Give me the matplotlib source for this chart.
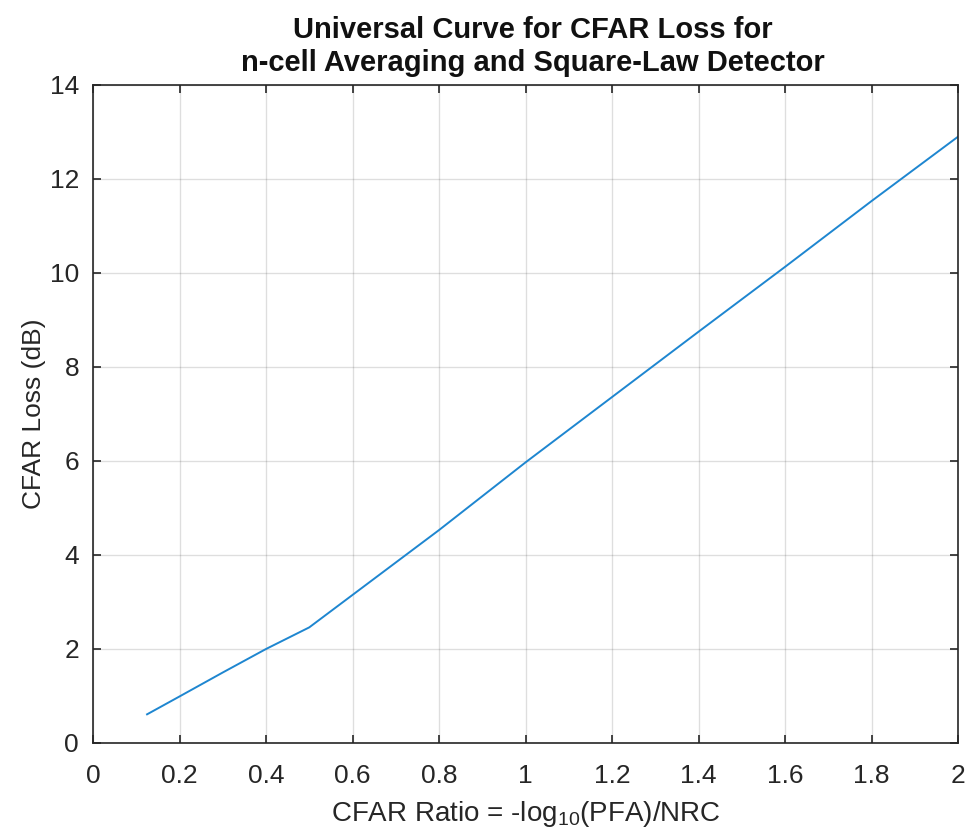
import matplotlib
matplotlib.use("Agg")
import matplotlib.pyplot as plt

# CFAR ratio vs CFAR loss
cfar_ratio = [0.125, 0.2, 0.3, 0.4, 0.5, 0.6, 0.8, 1.0, 1.2, 1.4, 1.6, 1.8, 2.0]
cfar_loss_db = [0.61, 0.99, 1.5, 2.0, 2.46, 3.15, 4.53, 5.97, 7.36, 8.75, 10.13, 11.53, 12.9]

x_ticks = [0, 0.2, 0.4, 0.6, 0.8, 1, 1.2, 1.4, 1.6, 1.8, 2]
x_tick_labels = ["0", "0.2", "0.4", "0.6", "0.8", "1", "1.2", "1.4", "1.6", "1.8", "2"]
y_ticks = [0, 2, 4, 6, 8, 10, 12, 14]

plt.rcParams['font.family'] = ['Liberation Sans', 'DejaVu Sans']
plt.rcParams['mathtext.fontset'] = 'custom'
plt.rcParams['mathtext.rm'] = 'Liberation Sans'

fig = plt.figure(figsize=(9.68, 8.36), dpi=100)
ax = fig.add_axes([93 / 968, 1 - 743 / 836, 865 / 968, 658 / 836])

ax.plot(cfar_ratio, cfar_loss_db, color='#1E86D0', linewidth=1.4)

ax.set_xlim(0, 2)
ax.set_ylim(0, 14)
ax.set_xticks(x_ticks)
ax.set_xticklabels(x_tick_labels)
ax.set_yticks(y_ticks)
ax.grid(True, color='#262626', alpha=0.15, linewidth=1)

for s in ax.spines.values():
    s.set_color('#262626')
    s.set_linewidth(1.2)
ax.tick_params(direction='in', top=True, right=True, length=6, width=1.2,
               color='#262626', labelcolor='#262626', labelsize=19)
ax.tick_params(axis='x', pad=15)
ax.tick_params(axis='y', pad=10)

ax.set_xlabel(r'CFAR Ratio = -log$_{\mathrm{10}}$(PFA)/NRC', fontsize=20, color='#262626', labelpad=8)
ax.set_ylabel('CFAR Loss (dB)', fontsize=19, color='#262626', labelpad=3)
ax.set_title('Universal Curve for CFAR Loss for\nn-cell Averaging and Square-Law Detector',
             fontsize=21, fontweight='bold', color='#111111', pad=10, linespacing=1.25, x=0.508)

fig.savefig('out.png', dpi=100)
